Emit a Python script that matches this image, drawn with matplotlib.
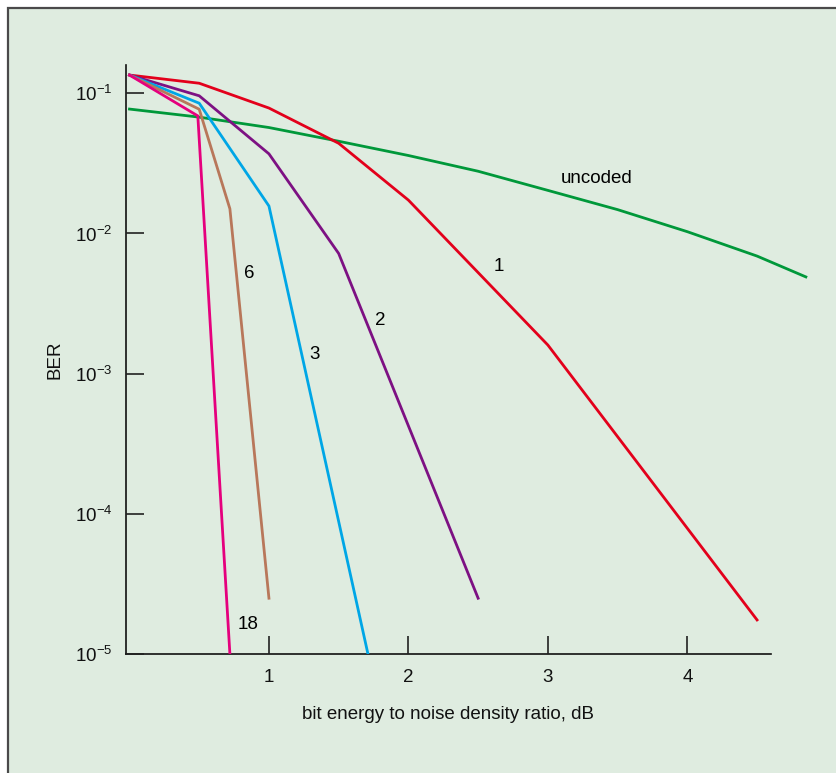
import matplotlib
matplotlib.use("Agg")
import matplotlib.pyplot as plt
from matplotlib.patches import Rectangle
from matplotlib.ticker import FixedLocator, NullLocator

plt.rcParams['font.family'] = ['Liberation Sans', 'DejaVu Sans']
plt.rcParams['mathtext.fontset'] = 'custom'
plt.rcParams['mathtext.rm'] = 'Liberation Sans'
plt.rcParams['mathtext.default'] = 'regular'

# BER curves (x in dB)
x_1 = [0, 0.5, 1.0, 1.5, 2.0, 3.0, 4.5]
ber_1 = [0.135, 0.118, 0.0785, 0.044, 0.0173, 0.0016, 1.75e-5]

x_2 = [0, 0.5, 1.0, 1.5, 2.5]
ber_2 = [0.135, 0.096, 0.037, 0.0072, 2.5e-5]

x_3 = [0, 0.5, 1.0, 1.71]
ber_3 = [0.135, 0.085, 0.0157, 1e-5]

x_6 = [0, 0.5, 0.72, 1.0]
ber_6 = [0.135, 0.077, 0.015, 2.5e-5]

x_18 = [0, 0.49, 0.72]
ber_18 = [0.135, 0.069, 1e-5]

x_unc = [0, 0.5, 1.0, 1.5, 2.0, 2.5, 3.0, 3.5, 4.0, 4.5, 4.85]
ber_unc = [0.0772, 0.0676, 0.057, 0.0455, 0.036, 0.0278, 0.0203, 0.0148, 0.0103, 0.0069, 0.0049]

xticks = [1, 2, 3, 4]
yticks = [1e-5, 1e-4, 1e-3, 1e-2, 1e-1]
ytick_labels = ['10$^{-5}$', '10$^{-4}$', '10$^{-3}$', '10$^{-2}$', '10$^{-1}$']

W, H = 837, 773
fig = plt.figure(figsize=(W / 100, H / 100), dpi=100, facecolor='white')

# panel background with border on top and left
bg = Rectangle((8.5 / W, -0.05), 1.1, (H - 7.5) / H + 0.05, transform=fig.transFigure,
               facecolor='#dfece0', edgecolor='#4a4a4a', linewidth=1.6, zorder=-1)
fig.patches.append(bg)

ax = fig.add_axes([126 / W, (H - 654) / H, (771 - 126) / W, (654 - 65) / H])
ax.set_facecolor('none')

lw = 2.0
ax.plot(x_unc, ber_unc, color='#00983a', lw=lw, clip_on=False)
ax.plot(x_1, ber_1, color='#e3001b', lw=lw)
ax.plot(x_2, ber_2, color='#7d1183', lw=lw)
ax.plot(x_3, ber_3, color='#00a6e6', lw=lw)
ax.plot(x_6, ber_6, color='#b8775a', lw=lw)
ax.plot(x_18, ber_18, color='#e5007d', lw=lw)

ax.set_yscale('log')
ax.set_xlim(-0.025, 4.6)
ax.set_ylim(1e-5, 10 ** -0.798)

ax.xaxis.set_major_locator(FixedLocator(xticks))
ax.set_xticklabels([str(t) for t in xticks])
ax.yaxis.set_major_locator(FixedLocator(yticks))
ax.yaxis.set_minor_locator(NullLocator())
ax.set_yticklabels(ytick_labels)

for s in ['top', 'right']:
    ax.spines[s].set_visible(False)
for s in ['left', 'bottom']:
    ax.spines[s].set_linewidth(1.2)
    ax.spines[s].set_color('#111111')
    ax.spines[s].set_zorder(1)

fs = 13.5
ax.tick_params(axis='both', direction='in', length=13, width=1.2, color='#222222',
               labelsize=fs, labelcolor='#111111')
ax.tick_params(axis='x', pad=11)
ax.tick_params(axis='y', pad=10)

ax.set_xlabel('bit energy to noise density ratio, dB', fontsize=fs, labelpad=14, color='#111111')
ax.set_ylabel('BER', fontsize=fs, labelpad=8, color='#111111')

# curve labels
ax.text(3.35, 0.0245, 'uncoded', fontsize=fs, ha='center', va='center')
ax.text(2.65, 0.0058, '1', fontsize=fs, ha='center', va='center')
ax.text(1.8, 0.0024, '2', fontsize=fs, ha='center', va='center')
ax.text(1.33, 0.00138, '3', fontsize=fs, ha='center', va='center')
ax.text(0.86, 0.0052, '6', fontsize=fs, ha='center', va='center')
ax.text(0.85, 1.62e-5, '18', fontsize=fs, ha='center', va='center')

fig.savefig('out.png', dpi=100, facecolor='white')
